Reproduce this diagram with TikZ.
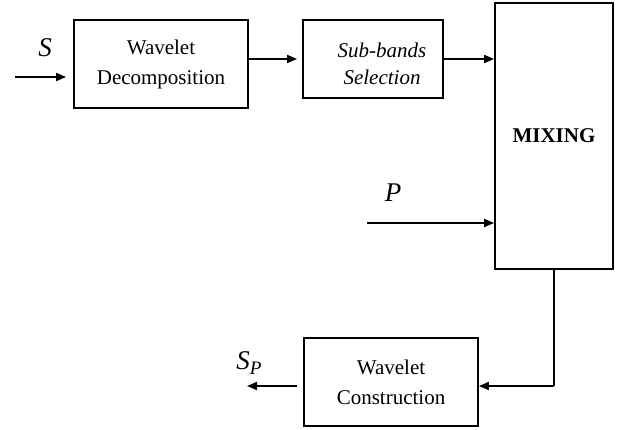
\documentclass[tikz,border=0pt]{standalone}
\usepackage{fontspec}
\setmainfont{Liberation Serif}
\usetikzlibrary{arrows.meta}
\begin{document}
\begin{tikzpicture}[x=1pt,y=-1pt,
  blk/.style={draw,line width=1.8pt,inner sep=0pt,align=center,font=\fontsize{21}{30}\selectfont},
  conn/.style={line width=1.8pt,-{Triangle[length=10pt,width=8pt]}},
  wire/.style={line width=1.8pt},
  lbl/.style={inner sep=0pt,font=\fontsize{27}{27}\selectfont\itshape}]
\useasboundingbox (0,0) rectangle (634,430);
\node[blk,minimum width=174pt,minimum height=88pt] (dec) at (161,64) {Wavelet\\Decomposition};
\node[blk,minimum width=140pt,minimum height=78pt] (sel) at (373,59) {};
\node[inner sep=0pt,align=center,font=\fontsize{21}{27}\selectfont\itshape] (seltxt) at (382,64) {Sub-bands\\Selection};
\node[blk,minimum width=118pt,minimum height=266pt,font=\fontsize{21}{21}\selectfont\bfseries] (mix) at (554,136) {MIXING};
\node[blk,minimum width=174pt,minimum height=88pt] (con) at (391,382) {Wavelet\\Construction};
\coordinate (sin) at (15,77);
\coordinate (pin) at (367,223);
\coordinate (sout) at (247,386);
\node[lbl] (slab) at (45,48) {S};
\node[lbl] (plab) at (393,193) {P};
\node[inner sep=0pt,font=\fontsize{27}{27}\selectfont\itshape] (splab) at (249,363) {S\raisebox{-5pt}{\fontsize{19}{19}\selectfont P}};
\draw[conn,shorten >=7pt] (sin) -- (sin -| dec.west);
\draw[conn,shorten >=5pt] (dec.east |- sel.west) -- (sel.west);
\draw[conn] (sel.east) -- (sel.east -| mix.west);
\draw[conn] (pin) -- (pin -| mix.west);
\draw[wire] (mix.south) -- (mix.south |- sout);
\draw[conn] (mix.south |- sout) -- (sout -| con.east);
\draw[conn] ([xshift=-6pt]con.west |- sout) -- (sout);
\end{tikzpicture}
\end{document}
